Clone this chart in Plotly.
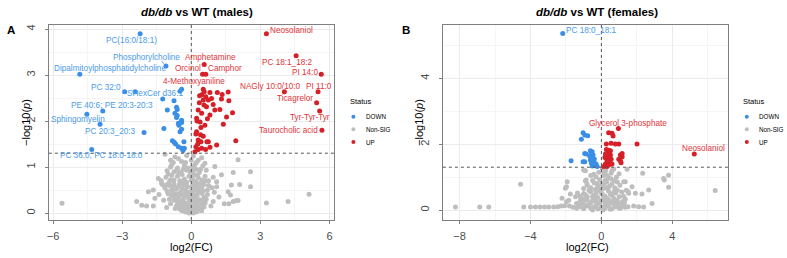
import plotly.graph_objects as go

W, H = 787, 258

# ---------------- DATA : panel A (males) ----------------
a_down = [(-2.22, 3.90), (-1.10, 3.20), (-4.84, 3.02), (-2.89, 2.64), (-2.44, 2.64),
          (-3.84, 2.22), (-4.53, 2.15), (-3.96, 1.93), (-2.05, 1.75), (-4.32, 1.38),
          (-0.42, 2.69), (-0.49, 2.65), (-1.24, 2.48), (-0.75, 2.44), (-0.64, 2.30),
          (-1.04, 2.24), (-0.61, 2.25), (-0.71, 2.17), (-0.61, 2.12), (-0.64, 2.08),
          (-0.42, 2.02), (-0.42, 1.97), (-0.56, 1.95), (-0.54, 1.91), (-1.19, 1.84),
          (-0.42, 1.82), (-0.49, 1.77), (-0.82, 1.57), (-0.74, 1.54), (-0.68, 1.50),
          (-0.32, 1.55), (-0.56, 1.44), (-0.42, 1.41), (-0.30, 1.41), (-0.36, 1.36)]
a_up = [(3.26, 3.90), (4.55, 3.42), (5.64, 3.02), (4.04, 2.64), (5.50, 2.64),
        (5.44, 2.40), (5.57, 2.22), (5.67, 1.80), (0.56, 3.23), (0.49, 3.02),
        (0.63, 3.02), (0.52, 2.69),
        (0.56, 2.64), (0.45, 2.57), (0.63, 2.53), (0.81, 2.62), (1.13, 2.62),
        (1.34, 2.58), (1.60, 2.63), (0.74, 2.46), (0.88, 2.49), (0.52, 2.46),
        (1.31, 2.48), (1.63, 2.44), (0.66, 2.31), (1.02, 2.24), (0.45, 2.17),
        (0.81, 2.13), (0.30, 2.24), (0.23, 2.06), (1.24, 2.25), (1.53, 2.09),
        (1.79, 2.18), (0.59, 1.91), (1.39, 1.93), (0.42, 1.86), (0.23, 1.77),
        (0.20, 1.72), (0.52, 1.67), (0.30, 1.59), (0.42, 1.55), (0.74, 1.55),
        (1.10, 1.48), (1.93, 1.57), (0.20, 1.44), (0.30, 1.38), (0.45, 1.41),
        (0.62, 1.38), (0.81, 1.43), (0.16, 1.33), (0.35, 2.40), (0.25, 2.00),
        (0.38, 1.98), (0.68, 1.55), (0.28, 1.50), (0.55, 2.35), (0.36, 2.55),
        (0.95, 2.36), (0.40, 1.70), (0.70, 2.05)]
a_ns = [(-0.35, 0.05), (-0.25, 0.02), (-0.15, 0.08), (-0.05, 0.01), (0.05, 0.04),
        (0.15, 0.07), (0.25, 0.03), (0.32, 0.09), (-0.10, 0.00), (0.10, 0.00),
        (-0.20, 0.10), (0.00, 0.06), (-0.30, 0.10), (0.20, 0.10), (0.40, 0.08),
        (-0.65, 0.15), (-0.55, 0.20), (-0.45, 0.12), (-0.35, 0.18), (-0.25, 0.22),
        (-0.15, 0.14), (-0.05, 0.20), (0.05, 0.12), (0.15, 0.18), (0.25, 0.24),
        (0.35, 0.15), (0.45, 0.20), (0.55, 0.13), (-0.60, 0.24), (0.60, 0.22),
        (-0.40, 0.25), (0.10, 0.25), (-0.20, 0.16), (0.30, 0.11),
        (-0.95, 0.30), (-0.85, 0.38), (-0.75, 0.28), (-0.65, 0.42), (-0.55, 0.33),
        (-0.45, 0.40), (-0.35, 0.30), (-0.25, 0.44), (-0.15, 0.35), (-0.05, 0.28),
        (0.05, 0.42), (0.15, 0.32), (0.25, 0.38), (0.35, 0.29), (0.45, 0.43),
        (0.55, 0.35), (0.65, 0.30), (0.70, 0.40), (-1.00, 0.42), (-0.60, 0.27),
        (0.00, 0.36), (-0.30, 0.37), (0.30, 0.45), (-0.80, 0.45),
        (-1.15, 0.55), (-1.05, 0.48), (-0.95, 0.60), (-0.85, 0.50), (-0.75, 0.63),
        (-0.65, 0.52), (-0.55, 0.58), (-0.45, 0.47), (-0.35, 0.62), (-0.25, 0.50),
        (-0.15, 0.57), (-0.05, 0.46), (0.05, 0.60), (0.15, 0.52), (0.25, 0.64),
        (0.35, 0.48), (0.45, 0.56), (0.55, 0.62), (0.70, 0.50), (0.75, 0.60),
        (-1.25, 0.62), (0.90, 0.55), (-0.50, 0.65), (0.10, 0.65),
        (-1.30, 0.70), (-1.10, 0.78), (-0.95, 0.68), (-0.85, 0.82), (-0.75, 0.72),
        (-0.60, 0.80), (-0.50, 0.70), (-0.40, 0.84), (-0.30, 0.74), (-0.20, 0.67),
        (-0.10, 0.80), (0.00, 0.72), (0.10, 0.83), (0.20, 0.69), (0.30, 0.77),
        (0.45, 0.72), (0.60, 0.80), (0.75, 0.70), (-1.00, 0.85), (0.95, 0.78),
        (1.10, 0.68),
        (-1.05, 0.92), (-0.90, 1.00), (-0.75, 0.90), (-0.60, 0.98), (-0.45, 0.88),
        (-0.30, 1.03), (-0.20, 0.93), (-0.05, 0.90), (0.05, 1.00), (0.20, 0.95),
        (0.35, 0.88), (0.50, 1.02), (0.65, 0.93), (-0.85, 1.05), (0.15, 1.05),
        (-1.14, 1.28), (-0.71, 1.22), (-0.42, 1.12), (0.09, 1.24), (0.30, 1.15),
        (0.59, 1.08), (-0.90, 1.15), (-0.55, 1.18), (-0.25, 1.10), (0.00, 1.15),
        (-0.20, 1.25), (0.45, 1.20),
        (-0.70, 0.10), (-0.50, 0.08), (0.45, 0.05), (0.50, 0.28), (-0.90, 0.20),
        (-0.72, 0.35), (-0.50, 0.42), (-0.40, 0.53), (-0.10, 0.40), (0.10, 0.50),
        (0.20, 0.58), (0.40, 0.65), (-0.90, 0.72), (-0.70, 0.55), (-0.30, 0.68),
        (0.05, 0.75), (0.25, 0.82), (-0.55, 0.88), (-0.15, 0.98), (0.40, 0.95),
        (-0.40, 0.05), (0.28, 0.18), (-0.10, 0.30), (0.60, 0.70), (-0.62, 0.95),
        (0.12, 0.40), (-0.22, 0.60), (0.35, 0.55), (-1.05, 0.62), (-0.85, 0.58),
        (0.52, 0.48), (-0.35, 0.95), (0.10, 0.92), (-0.78, 1.10), (0.22, 1.10),
        (-2.37, 0.25), (-2.15, 0.17), (-1.94, 0.15), (-1.86, 0.46), (-1.65, 0.50),
        (-1.58, 0.32), (-1.65, 0.15), (-1.43, 0.75), (-1.29, 0.65), (-1.07, 0.12),
        (-1.20, 0.28), (-1.40, 0.40), (-5.61, 0.21),
        (1.02, 1.01), (1.31, 0.83), (1.10, 0.57), (2.03, 1.16), (1.82, 0.88),
        (2.57, 0.90), (1.74, 0.61), (2.10, 0.62), (2.57, 0.57), (1.60, 0.46),
        (1.70, 0.39), (5.11, 0.41), (1.82, 0.25), (1.96, 0.27), (2.03, 0.27),
        (1.43, 0.20), (1.63, 0.20), (3.26, 0.22), (4.20, 0.25), (1.20, 0.35),
        (0.95, 0.25), (1.00, 0.45), (0.85, 0.15)]
a_down_names = ["PC(16:0/18:1)", "Phosphorylcholine", "Dipalmitoylphosphatidylcholine",
                "PC 32:0", "SHexCer d36:1", "PE 40:6; PE 20:3-20:3", "", "Sphingomyelin",
                "PC 20:3_20:3", "PC 36:0; PC 18:0-18:0"]
a_up_names = ["Neosolaniol", "PC 18:1_18:2", "PI 14:0", "NAGly 10:0/10:0", "PI 11:0",
              "Ticagrelor", "Tyr-Tyr-Tyr", "Taurocholic acid", "Amphetamine", "Orcinol",
              "Camphor", "4-Methoxyaniline"]

# ---------------- DATA : panel B (females) ----------------
b_down = [(-2.18, 5.37), (-1.03, 2.35), (-0.77, 2.26), (-0.94, 2.28), (-1.13, 2.15),
          (-1.71, 1.50), (-1.03, 1.47), (-0.94, 1.47), (-0.86, 1.70), (-0.94, 1.72),
          (-0.62, 1.80), (-0.52, 1.77), (-0.58, 1.72), (-0.47, 1.67), (-0.66, 1.64),
          (-0.52, 1.57), (-0.62, 1.52), (-0.43, 1.47), (-0.56, 1.42), (-0.34, 1.37),
          (-0.52, 1.34), (-0.24, 1.32), (-0.40, 1.55), (-0.30, 1.40)]
b_up = [(0.96, 2.48), (5.24, 1.70), (0.41, 2.35), (0.60, 2.33), (0.66, 2.25),
        (0.28, 2.01), (0.55, 2.03), (0.79, 2.01), (0.98, 2.01), (2.01, 2.01),
        (0.28, 1.84), (0.41, 1.82), (0.51, 1.80), (0.36, 1.74), (0.23, 1.70),
        (0.51, 1.67), (0.41, 1.62), (0.28, 1.57), (0.55, 1.54), (0.32, 1.50),
        (0.47, 1.44), (0.23, 1.40), (0.41, 1.37), (0.60, 1.40), (0.13, 1.32),
        (0.32, 1.32), (1.07, 1.67), (1.17, 1.62), (0.98, 1.54), (1.07, 1.50),
        (1.11, 1.44), (1.17, 1.72), (0.20, 1.60), (0.36, 1.48)]
b_ns = [(-1.60, 0.08), (-1.40, 0.05), (-1.20, 0.10), (-1.00, 0.04), (-0.80, 0.12),
        (-0.60, 0.06), (-0.40, 0.10), (-0.20, 0.03), (0.00, 0.08), (0.20, 0.05),
        (0.40, 0.12), (0.60, 0.04), (0.80, 0.10), (1.00, 0.06), (1.20, 0.12),
        (-0.50, 0.00), (0.10, 0.00), (0.50, 0.02), (-0.90, 0.14), (0.90, 0.15),
        (1.50, 0.10), (-1.80, 0.12),
        (-1.40, 0.20), (-1.20, 0.28), (-1.00, 0.18), (-0.80, 0.30), (-0.60, 0.22),
        (-0.40, 0.33), (-0.20, 0.20), (0.00, 0.28), (0.20, 0.18), (0.40, 0.32),
        (0.60, 0.22), (0.80, 0.30), (1.00, 0.20), (1.20, 0.26), (1.35, 0.33),
        (-1.10, 0.35), (0.30, 0.25), (-0.30, 0.26), (0.70, 0.35),
        (-1.20, 0.42), (-1.00, 0.50), (-0.80, 0.40), (-0.60, 0.55), (-0.40, 0.45),
        (-0.20, 0.38), (0.00, 0.52), (0.20, 0.42), (0.40, 0.58), (0.60, 0.45),
        (0.80, 0.52), (1.00, 0.40), (1.15, 0.55), (-0.70, 0.60), (0.30, 0.36),
        (-0.10, 0.60), (0.90, 0.60),
        (-1.00, 0.65), (-0.80, 0.75), (-0.60, 0.68), (-0.40, 0.82), (-0.20, 0.70),
        (0.00, 0.78), (0.15, 0.66), (0.30, 0.85), (0.45, 0.72), (0.60, 0.80),
        (0.75, 0.68), (0.90, 0.85), (1.05, 0.75), (-0.50, 0.90), (0.20, 0.90),
        (-0.90, 0.88),
        (-0.86, 0.91), (-0.81, 0.79), (-0.90, 1.19), (-0.43, 1.09), (-1.00, 1.22),
        (-0.30, 1.00), (-0.15, 1.15), (0.10, 1.05), (0.25, 1.20), (0.40, 0.98),
        (0.55, 1.12), (0.70, 1.25), (0.85, 1.00), (1.00, 1.10), (-0.60, 1.05),
        (0.05, 1.28),
        (-1.30, 0.15), (-1.10, 0.24), (-0.90, 0.32), (-0.70, 0.15), (-0.50, 0.28),
        (-0.30, 0.14), (-0.10, 0.22), (0.10, 0.32), (0.30, 0.12), (0.50, 0.25),
        (0.70, 0.18), (0.90, 0.28), (1.10, 0.16), (1.30, 0.22), (-0.90, 0.46),
        (-0.50, 0.40), (-0.30, 0.52), (0.10, 0.45), (0.50, 0.48), (0.70, 0.55),
        (1.25, 0.42), (-0.35, 0.62), (0.05, 0.65), (0.35, 0.68), (0.55, 0.95),
        (0.15, 0.80), (-0.10, 0.92), (0.75, 0.90), (0.30, 1.05), (-0.25, 0.80),
        (1.40, 0.60), (-1.35, 0.52), (0.60, 1.20), (0.15, 1.15),
        (-8.23, 0.09), (-6.86, 0.09), (-6.35, 0.09), (-4.56, 0.78), (-4.38, 0.09),
        (-4.00, 0.09), (-3.72, 0.09), (-3.47, 0.09), (-3.21, 0.09), (-2.97, 0.09),
        (-2.69, 0.09), (-2.46, 0.10), (-2.27, 0.12), (-2.08, 0.13), (-2.22, 0.36),
        (-1.97, 0.25), (-1.93, 0.86), (-2.03, 0.66), (-1.75, 0.49), (-1.97, 0.71),
        (-1.84, 0.30), (-1.46, 0.40),
        (1.45, 1.24), (2.33, 1.12), (1.35, 0.86), (1.50, 0.56), (2.67, 0.61),
        (3.51, 0.96), (3.55, 0.91), (3.79, 1.06), (3.79, 0.69), (6.42, 0.59),
        (2.86, 0.20), (2.38, 0.09), (2.10, 0.10), (1.82, 0.12), (1.35, 0.08),
        (1.54, 0.51), (2.29, 0.49), (1.92, 0.51), (1.73, 0.71), (1.26, 0.86),
        (1.07, 0.05)]
b_down_names = ["PC 18:0_18:1"]
b_up_names = ["Glycerol 3-phosphate", "Neosolaniol"]

P_THRESH = 1.301  # -log10(0.05)

# ---------------- label placement (data coords of text centres) ----------------
a_down_lab_pos = [(-2.58, 3.76), (-1.94, 3.38), (-3.54, 3.15), (-3.71, 2.72), (-1.59, 2.60),
                  (-3.43, 2.33), None, (-4.90, 2.04), (-3.51, 1.77), (-3.90, 1.26)]
a_up_lab_pos = [(4.34, 3.96), (4.19, 3.28), (4.92, 3.05), (3.43, 2.76), (5.55, 2.76),
                (4.52, 2.48), (5.16, 2.08), (4.23, 1.80), (0.84, 3.38), (-0.15, 3.15),
                (1.45, 3.15), (0.12, 2.87)]
b_down_lab_pos = [(-0.56, 5.45)]
b_up_lab_pos = [(1.49, 2.64), (5.75, 1.88)]

# ---------------- styling ----------------
C_DOWN, C_UP, C_NS = "#3A8EE6", "#D61F26", "#BEBEBE"
C_DOWN_T, C_UP_T = "#4A9BEA", "#E0353A"
FONT = "Liberation Sans, Arial, sans-serif"


def xp(px):
    return px / W


def yp(py):
    return 1 - py / H


fig = go.Figure()


def add_pts(pts, color, xa, ya):
    fig.add_trace(go.Scatter(x=[p[0] for p in pts], y=[p[1] for p in pts], mode="markers",
                             marker=dict(size=5, color=color, line=dict(width=0)),
                             xaxis=xa, yaxis=ya, hoverinfo="skip", showlegend=False))


add_pts(a_ns, C_NS, "x", "y")
add_pts(a_down, C_DOWN, "x", "y")
add_pts(a_up, C_UP, "x", "y")
add_pts(b_ns, C_NS, "x2", "y2")
add_pts(b_down, C_DOWN, "x2", "y2")
add_pts(b_up, C_UP, "x2", "y2")

ann = []


def add_labels(names, pos, color, xr, yr):
    for n, p in zip(names, pos):
        if not n or p is None:
            continue
        ann.append(dict(x=p[0], y=p[1], xref=xr, yref=yr, text=n, showarrow=False,
                        xanchor="center", yanchor="middle",
                        font=dict(size=8.2, color=color, family=FONT)))


add_labels(a_down_names, a_down_lab_pos, C_DOWN_T, "x", "y")
add_labels(a_up_names, a_up_lab_pos, C_UP_T, "x", "y")
add_labels(b_down_names, b_down_lab_pos, C_DOWN_T, "x2", "y2")
add_labels(b_up_names, b_up_lab_pos, C_UP_T, "x2", "y2")

for cx, txt in [(195, "<b><i>db/db</i> vs WT (males)</b>"), (597, "<b><i>db/db</i> vs WT (females)</b>")]:
    ann.append(dict(x=xp(cx), y=yp(12), xref="paper", yref="paper", text=txt, showarrow=False,
                    xanchor="center", yanchor="middle", font=dict(size=11.5, color="black", family=FONT)))
for cx, txt in [(9.5, "<b>A</b>"), (405, "<b>B</b>")]:
    ann.append(dict(x=xp(cx), y=yp(30), xref="paper", yref="paper", text=txt, showarrow=False,
                    xanchor="center", yanchor="middle", font=dict(size=11.5, color="black", family=FONT)))
for cx in [190, 587]:
    ann.append(dict(x=xp(cx), y=yp(246.5), xref="paper", yref="paper", text="log2(FC)", showarrow=False,
                    xanchor="center", yanchor="middle", font=dict(size=11, color="black", family=FONT)))
for cx in [24, 418]:
    ann.append(dict(x=xp(cx), y=yp(122), xref="paper", yref="paper", text="−log10(<i>p</i>)",
                    showarrow=False, textangle=-90, xanchor="center", yanchor="middle",
                    font=dict(size=11, color="black", family=FONT)))

shapes = []
for lx, mx, tx in [(347, 352.3, 363), (741, 746.7, 756.7)]:
    ann.append(dict(x=xp(lx), y=yp(101.5), xref="paper", yref="paper", text="Status", showarrow=False,
                    xanchor="left", yanchor="middle", font=dict(size=7.5, color="black", family=FONT)))
    for yy, col, name in [(116.7, C_DOWN, "DOWN"), (129.3, C_NS, "Non-SIG"), (142, C_UP, "UP")]:
        shapes.append(dict(type="circle", xref="paper", yref="paper",
                           x0=xp(mx - 2), x1=xp(mx + 2), y0=yp(yy + 2), y1=yp(yy - 2),
                           fillcolor=col, line=dict(width=0)))
        ann.append(dict(x=xp(tx), y=yp(yy), xref="paper", yref="paper", text=name, showarrow=False,
                        xanchor="left", yanchor="middle", font=dict(size=6.3, color="black", family=FONT)))

for xr, yr in [("x", "y"), ("x2", "y2")]:
    shapes.append(dict(type="line", xref=xr + " domain", yref=yr, x0=0, x1=1, y0=P_THRESH, y1=P_THRESH,
                       line=dict(color="#555555", width=1, dash="dot"), layer="above"))
    shapes.append(dict(type="line", xref=xr, yref=yr + " domain", x0=0, x1=0, y0=0, y1=1,
                       line=dict(color="#555555", width=1, dash="dot"), layer="above"))
shapes.append(dict(type="line", xref="x", yref="y", x0=-1.30, y0=3.31, x1=-1.15, y1=3.22,
                   line=dict(color=C_DOWN_T, width=0.8)))

axis_common = dict(showline=True, linecolor="#7F7F7F", linewidth=1, mirror=True, ticks="outside",
                   ticklen=3, tickcolor="#7F7F7F", tickfont=dict(size=11, color="#4D4D4D", family=FONT),
                   showgrid=True, gridcolor="#EBEBEB", gridwidth=0.8, zeroline=False)
minor_style = dict(showgrid=True, gridcolor="#F5F5F5", gridwidth=0.6, ticks="")

fig.update_layout(
    width=W, height=H, margin=dict(l=0, r=0, t=0, b=0),
    paper_bgcolor="white", plot_bgcolor="white", showlegend=False,
    font=dict(family=FONT),
    xaxis=dict(domain=[xp(47), xp(333)], range=[-6.18, 6.2], tickvals=[-6, -3, 0, 3, 6],
               ticktext=["−6", "−3", "0", "3", "6"], minor=dict(tickvals=[-4.5, -1.5, 1.5, 4.5], **minor_style),
               anchor="y", ticklabelstandoff=3, **axis_common),
    yaxis=dict(domain=[yp(220), yp(24.5)], range=[-0.152, 4.1], tickvals=[0, 1, 2, 3, 4], tickangle=-90,
               minor=dict(tickvals=[0.5, 1.5, 2.5, 3.5], **minor_style), anchor="x",
               ticklabelstandoff=5, **axis_common),
    xaxis2=dict(domain=[xp(442), xp(728)], range=[-8.94, 7.15], tickvals=[-8, -4, 0, 4],
                ticktext=["−8", "−4", "0", "4"], minor=dict(tickvals=[-6, -2, 2, 6], **minor_style),
                anchor="y2", ticklabelstandoff=3, **axis_common),
    yaxis2=dict(domain=[yp(220), yp(24.5)], range=[-0.304, 5.64], tickvals=[0, 2, 4], tickangle=-90,
                minor=dict(tickvals=[1, 3, 5], **minor_style), anchor="x2",
                ticklabelstandoff=5, **axis_common),
    annotations=ann, shapes=shapes,
)

fig.write_html("out.html", config={"displayModeBar": False},
               post_script="document.body.style.margin='0px';document.body.style.overflow='hidden';")
